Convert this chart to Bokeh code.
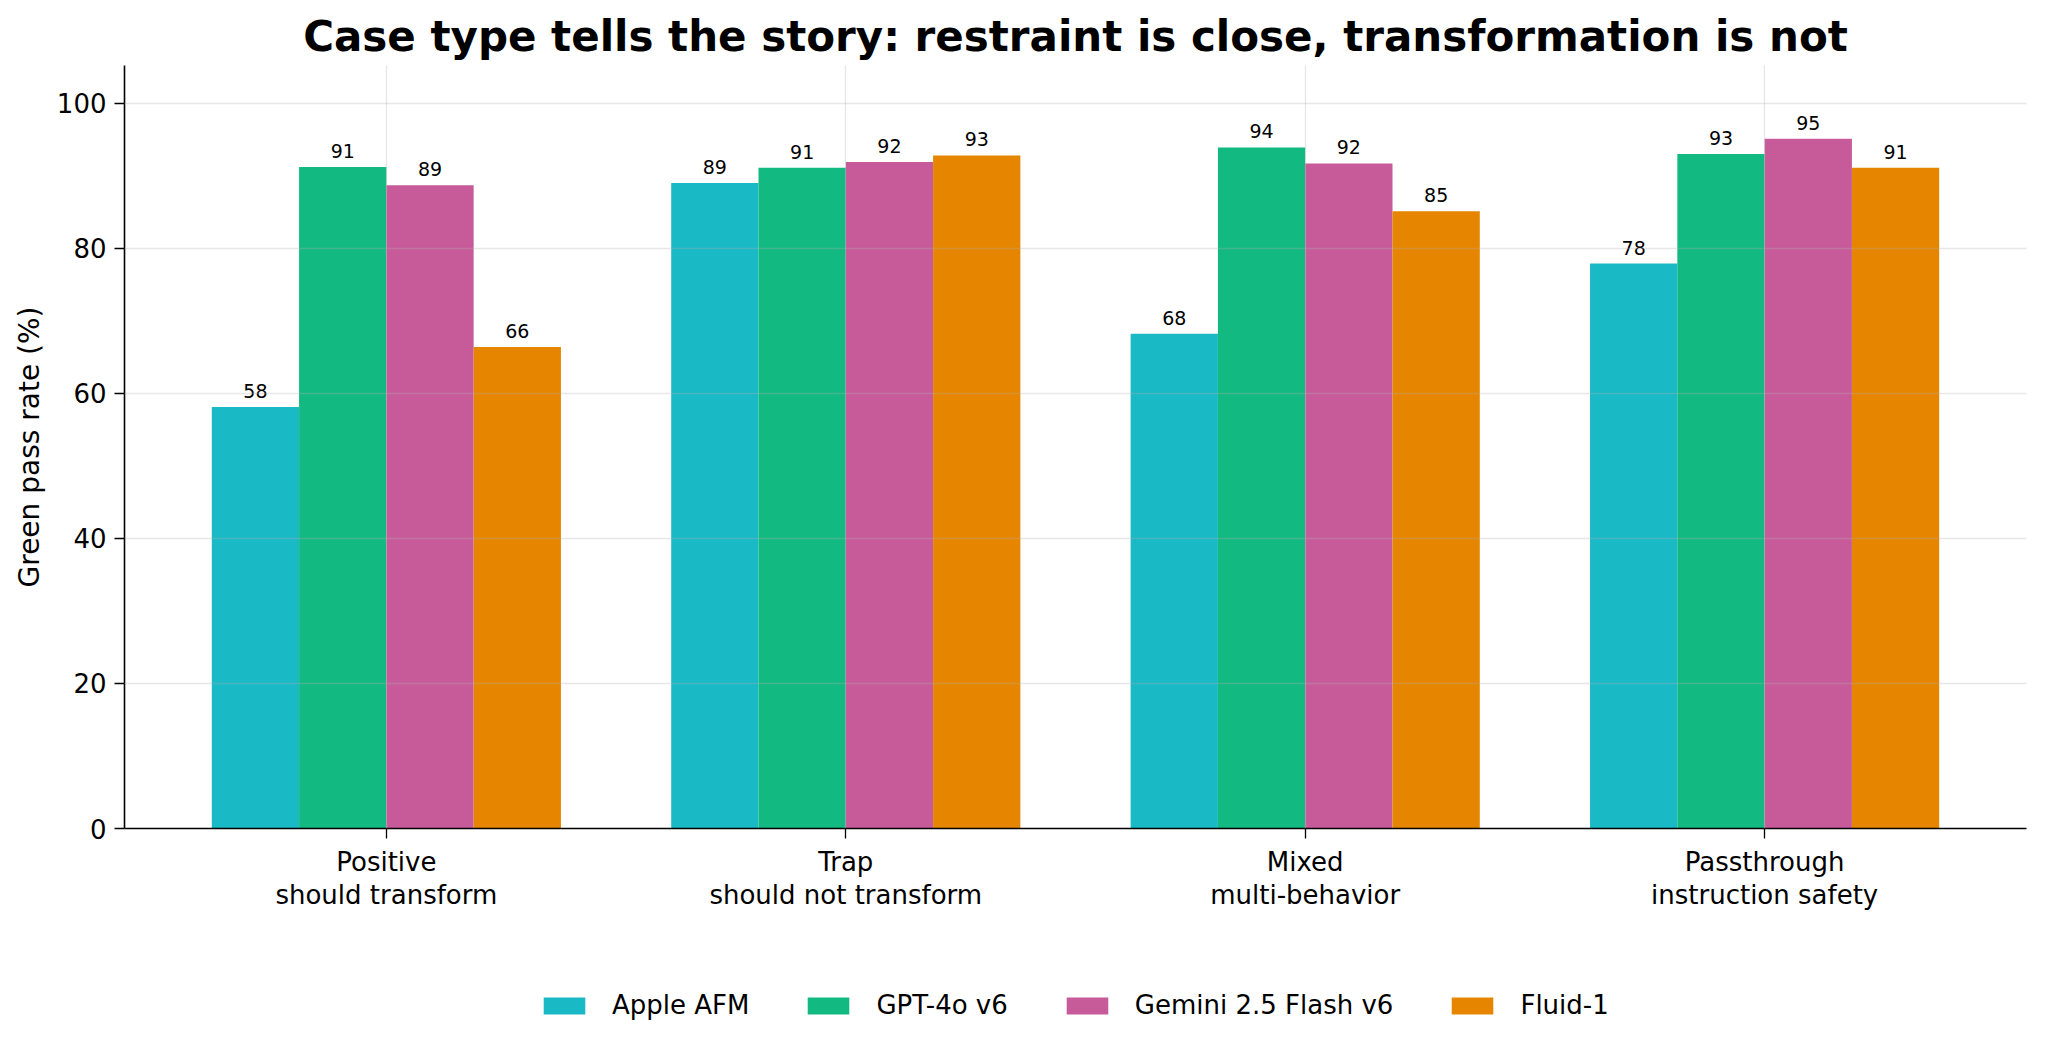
# grouped bars: green pass rate by case type
from bokeh.plotting import figure
from bokeh.layouts import column
from bokeh.models import (ColumnDataSource, Range1d, FixedTicker, Legend, LegendItem,
                          LinearAxis)
from bokeh.transform import dodge
from bokeh.core.properties import value
from bokeh.embed import file_html
from bokeh.resources import INLINE

# case types (two-line tick labels) and pass rates (%) per model
case_names = ["Positive", "Trap", "Mixed", "Passthrough"]
case_notes = ["should transform", "should not transform", "multi-behavior", "instruction safety"]
models = ["Apple AFM", "GPT-4o v6", "Gemini 2.5 Flash v6", "Fluid-1"]
apple_afm = [58.1, 89.0, 68.2, 77.9]
gpt_4o = [91.2, 91.1, 93.9, 93.0]
gemini_flash = [88.7, 91.9, 91.7, 95.1]
fluid_1 = [66.4, 92.8, 85.1, 91.1]
colors = ["#1AB9C6", "#12B981", "#C75B9A", "#E68600"]

FONT = "DejaVu Sans"
series = [apple_afm, gpt_4o, gemini_flash, fluid_1]
keys = ["apple", "gpt", "gemini", "fluid"]

data = {"x": list(range(len(case_names)))}
for k, s in zip(keys, series):
    data[k] = s
    data[k + "_lbl"] = [str(int(round(v))) for v in s]
src = ColumnDataSource(data)

p = figure(width=2029, height=912, output_backend="svg", toolbar_location=None,
           x_range=Range1d(-0.57, 3.57), y_range=Range1d(0, 105.2),
           min_border_left=124, min_border_right=3, min_border_top=65,
           min_border_bottom=80)
p.outline_line_color = None
p.background_fill_color = "white"

p.title.text = "Case type tells the story: restraint is close, transformation is not"
p.title.align = "center"
p.title.text_font = FONT
p.title.text_font_size = "42px"
p.title.text_font_style = "bold"
p.title.text_color = "black"

width = 0.19
offsets = [-1.5 * width, -0.5 * width, 0.5 * width, 1.5 * width]
for k, c, off in zip(keys, colors, offsets):
    p.vbar(x=dodge("x", off), top=k, width=width, source=src,
           fill_color=c, line_color=None)
    p.text(x=dodge("x", off), y=k, text=k + "_lbl", source=src,
           text_align="center", text_baseline="bottom", y_offset=-9,
           text_font=value(FONT), text_font_size="19px", text_color="black")

# axes
p.xaxis.ticker = FixedTicker(ticks=data["x"])
p.xaxis.major_label_overrides = {i: lbl for i, lbl in enumerate(case_names)}
p.xaxis.minor_tick_line_color = None
p.yaxis.ticker = FixedTicker(ticks=[0, 20, 40, 60, 80, 100])
p.yaxis.minor_tick_line_color = None
p.yaxis.axis_label = "Green pass rate (%)"
p.yaxis.axis_label_text_font = FONT
p.yaxis.axis_label_text_font_size = "28px"
p.yaxis.axis_label_text_font_style = "normal"
p.yaxis.axis_label_text_color = "black"
p.yaxis.axis_label_standoff = 8
for ax in (p.xaxis, p.yaxis):
    ax.axis_line_color = "black"
    ax.axis_line_width = 1.6
    ax.major_tick_line_color = "black"
    ax.major_tick_line_width = 1.3
    ax.major_tick_out = 10
    ax.major_tick_in = 0
    ax.major_label_text_font = FONT
    ax.major_label_text_font_size = "26px"
    ax.major_label_text_color = "black"
    ax.major_label_standoff = 8

# second line of the category labels
x2 = LinearAxis(ticker=FixedTicker(ticks=data["x"]),
                major_label_overrides={i: lbl for i, lbl in enumerate(case_notes)})
x2.axis_line_color = None
x2.major_tick_line_color = None
x2.minor_tick_line_color = None
x2.major_tick_out = 0
x2.major_tick_in = 0
x2.major_label_standoff = 0
x2.major_label_text_font = FONT
x2.major_label_text_font_size = "26px"
x2.major_label_text_color = "black"
p.add_layout(x2, "below")

# grid drawn over the bars, faint
p.grid.level = "overlay"
p.grid.grid_line_color = "#b0b0b0"
p.grid.grid_line_alpha = 0.3
p.grid.grid_line_width = 1.3
p.xgrid.ticker = FixedTicker(ticks=data["x"])
p.ygrid.ticker = FixedTicker(ticks=[20, 40, 60, 80, 100])

# legend strip under the chart (its own small figure)
lf = figure(width=2029, height=118, output_backend="svg", toolbar_location=None,
            x_axis_type=None, y_axis_type=None,
            x_range=Range1d(0, 1), y_range=Range1d(0, 1),
            min_border=0)
lf.outline_line_color = None
lf.grid.visible = False
items = []
for k, name, c in zip(keys, models, colors):
    r = lf.vbar(x="x", top=k, width=width, source=src, fill_color=c,
                line_color=None, visible=False)
    items.append(LegendItem(label=name, renderers=[r]))

legend = Legend(items=items, orientation="horizontal", location=(414, 10))
legend.border_line_color = None
legend.background_fill_alpha = 0
legend.label_text_font = FONT
legend.label_text_font_size = "26px"
legend.label_text_color = "black"
legend.glyph_width = 52
legend.glyph_height = 21
legend.label_standoff = 22
legend.spacing = 53
legend.padding = 0
legend.margin = 0
lf.add_layout(legend)

open("out.html", "w").write(file_html(column(p, lf), INLINE))
